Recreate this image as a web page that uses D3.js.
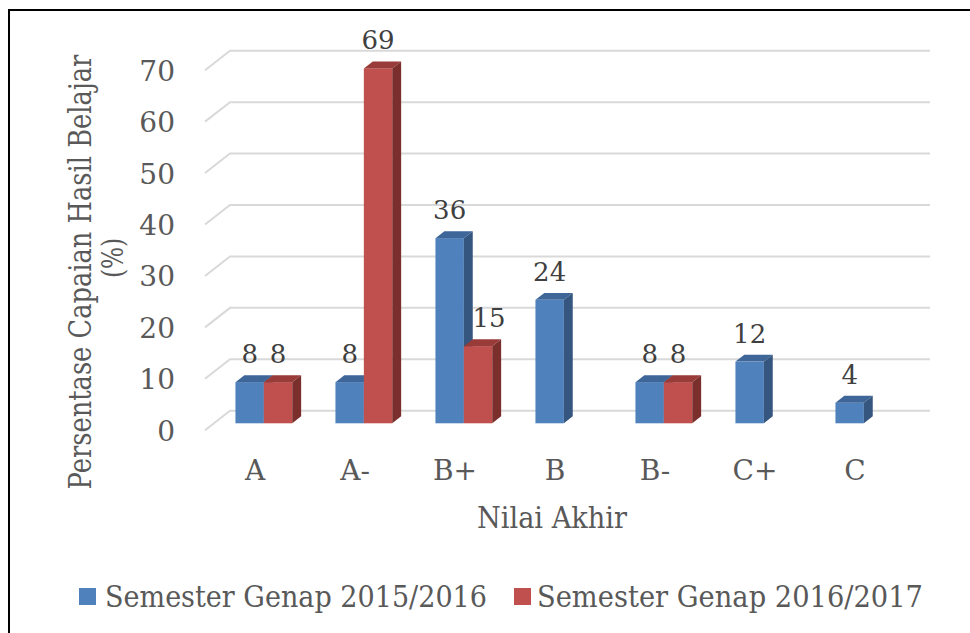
<!DOCTYPE html>
<html>
<head>
<meta charset="utf-8">
<script src="https://cdn.jsdelivr.net/npm/d3@7"></script>
<style>
  html, body { margin: 0; padding: 0; background: #fff; }
  svg { display: block; }
  text { font-family: "DejaVu Serif", "Liberation Serif", serif; }
</style>
</head>
<body>
<svg id="chart" width="970" height="633"></svg>
<script>
const categories = ["A", "A-", "B+", "B", "B-", "C+", "C"];
const series1 = [8, 8, 36, 24, 8, 12, 4];          // Semester Genap 2015/2016
const series2 = [8, 69, 15, null, 8, null, null];  // Semester Genap 2016/2017
const seriesNames = ["Semester Genap 2015/2016", "Semester Genap 2016/2017"];
const yTicks = [0, 10, 20, 30, 40, 50, 60, 70];
const xTitle = "Nilai Akhir";
const yTitleLines = ["Persentase Capaian Hasil Belajar", "(%)"];

const svg = d3.select("#chart");

// frame
svg.append("rect").attr("x", 9).attr("y", 10).attr("width", 1000).attr("height", 700)
  .attr("fill", "none").attr("stroke", "#000").attr("stroke-width", 2);

// 3D projection parameters
const depthDX = 25, depthDY = -19.5;
const barZ0 = 0.354, barZ1 = 0.71;

const x = d3.scaleBand().domain(categories).range([205, 905]).paddingInner(0.432).paddingOuter(0.216);
const xs = d3.scaleBand().domain([0, 1]).range([0, x.bandwidth()]);
const y = d3.scaleLinear().domain([0, 70]).range([430.2, 70.2]);

const P = (xf, v, z) => [xf + depthDX * z, y(v) + depthDY * z];

// gridlines (side wall diagonal + back wall)
const grid = svg.append("g");
const xL = 205, xR = 905;
yTicks.forEach(v => {
  const a = P(xL, v, 0), b = P(xL, v, 1), c = P(xR, v, 1);
  grid.append("path")
    .attr("d", `M${a[0]},${a[1]}L${b[0]},${b[1]}L${c[0]},${c[1]}`)
    .attr("fill", "none").attr("stroke", "#D9D9D9").attr("stroke-width", 2);
});

// y tick labels
svg.append("g").selectAll("text").data(yTicks).join("text")
  .attr("x", 175).attr("y", d => y(d) + 10.5)
  .attr("text-anchor", "end").attr("font-size", 28).attr("fill", "#595959")
  .text(d => d);

// bars
const colors = [
  { front: "#4F81BD", top: "#3E6699", side: "#34567F" },
  { front: "#C0504D", top: "#983B39", side: "#7B2F2D" }
];
const allSeries = [series1, series2];
const bars = svg.append("g");
categories.forEach((cat, i) => {
  allSeries.forEach((s, si) => {
    const v = s[i];
    if (v == null) return;
    const x0 = x(cat) + xs(si), x1 = x0 + xs.bandwidth();
    const c = colors[si];
    const pts = arr => arr.map(p => p.join(",")).join(" ");
    const g = bars.append("g");
    const f0 = P(x0, v, barZ0), f1 = P(x1, 0, barZ0);
    g.append("rect").attr("x", f0[0]).attr("y", f0[1])
      .attr("width", f1[0] - f0[0]).attr("height", f1[1] - f0[1]).attr("fill", c.front);
    g.append("polygon").attr("points", pts([P(x0, v, barZ0), P(x1, v, barZ0), P(x1, v, barZ1), P(x0, v, barZ1)]))
      .attr("fill", c.top);
    g.append("polygon").attr("points", pts([P(x1, v, barZ0), P(x1, 0, barZ0), P(x1, 0, barZ1), P(x1, v, barZ1)]))
      .attr("fill", c.side);
  });
});

// data labels
const labels = svg.append("g");
categories.forEach((cat, i) => {
  allSeries.forEach((s, si) => {
    const v = s[i];
    if (v == null) return;
    const x0 = x(cat) + xs(si);
    const cx = P(x0 + xs.bandwidth() / 2, v, barZ0)[0];
    const other = allSeries[1 - si][i];
    const shift = (si === 1 && other != null && other > v) ? 11 : 0;
    labels.append("text")
      .attr("x", cx + shift).attr("y", P(x0, v, barZ0)[1] - 19)
      .attr("text-anchor", "middle").attr("font-size", 26).attr("fill", "#404040")
      .text(v);
  });
});

// x category labels
svg.append("g").selectAll("text").data(categories).join("text")
  .attr("x", d => x(d) + x.bandwidth() / 2).attr("y", 480)
  .attr("text-anchor", "middle").attr("font-size", 28).attr("fill", "#595959")
  .text(d => d);

// x title
svg.append("text").attr("x", 552).attr("y", 528).attr("text-anchor", "middle")
  .attr("font-size", 29).attr("fill", "#595959")
  .attr("textLength", 150).attr("lengthAdjust", "spacingAndGlyphs")
  .text(xTitle);

// y title (condensed horizontally via scale, like the reference)
svg.append("text").attr("transform", "translate(91,272) rotate(-90) scale(0.83,1)")
  .attr("text-anchor", "middle").attr("font-size", 31).attr("fill", "#595959")
  .text(yTitleLines[0]);
svg.append("text").attr("transform", "translate(123,258) rotate(-90) scale(0.8,1)")
  .attr("text-anchor", "middle").attr("font-size", 29).attr("fill", "#595959")
  .text(yTitleLines[1]);

// legend
const legendItems = [
  { sx: 79, tx: 105, len: 382 },
  { sx: 514, tx: 537, len: 386 }
];
const lg = svg.append("g");
seriesNames.forEach((name, i) => {
  const it = legendItems[i];
  lg.append("rect").attr("x", it.sx).attr("y", 588).attr("width", 17).attr("height", 17)
    .attr("fill", colors[i].front);
  lg.append("text").attr("x", it.tx).attr("y", 606.5)
    .attr("font-size", 29).attr("fill", "#595959")
    .attr("textLength", it.len).attr("lengthAdjust", "spacingAndGlyphs")
    .text(name);
});
</script>
</body>
</html>
